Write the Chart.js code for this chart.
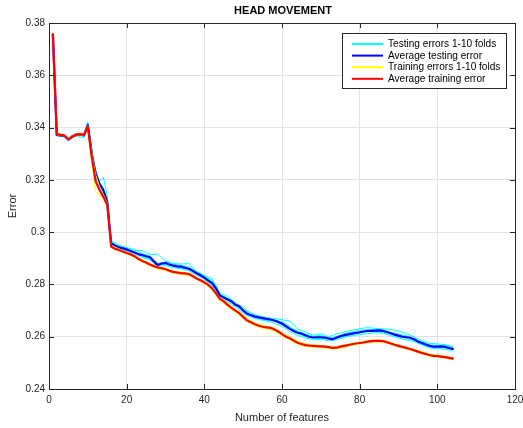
<!DOCTYPE html>
<html>
<head>
<meta charset="utf-8">
<script src="https://cdn.jsdelivr.net/npm/chart.js@4.4.1/dist/chart.umd.min.js"></script>
<style>
  html, body { margin: 0; padding: 0; background: #ffffff; overflow: hidden; }
  canvas { display: block; }
</style>
</head>
<body>
<canvas id="c" width="523" height="428"></canvas>
<script>
// ---- texts and ticks ----
const chartTitle = 'HEAD MOVEMENT';
const xTitle = 'Number of features';
const yTitle = 'Error';
const xTicks = [0, 20, 40, 60, 80, 100, 120];
const yTicks = [0.24, 0.26, 0.28, 0.30, 0.32, 0.34, 0.36, 0.38];
const legendNames = ['Testing errors 1-10 folds', 'Average testing error', 'Training errors 1-10 folds', 'Average training error'];

// ---- averaged curves, one value per feature count ----
const features = [1,2,3,4,5,6,7,8,9,10,11,12,13,14,15,16,17,18,19,20,21,22,23,24,25,26,27,28,29,30,
  31,32,33,34,35,36,37,38,39,40,41,42,43,44,45,46,47,48,49,50,51,52,53,54,55,56,57,58,59,60,
  61,62,63,64,65,66,67,68,69,70,71,72,73,74,75,76,77,78,79,80,81,82,83,84,85,86,87,88,89,90,
  91,92,93,94,95,96,97,98,99,100,101,102,103,104];

const avgTesting = [0.3757,0.3372,0.3370,0.3368,0.3354,0.3366,0.3372,0.3374,0.3370,0.3410,
  0.3300,0.3225,0.3185,0.3160,0.3115,0.2958,0.2948,0.2942,0.2938,0.2934,
  0.2928,0.2922,0.2916,0.2912,0.2908,0.2904,0.2888,0.2874,0.2880,0.2882,
  0.2876,0.2872,0.2869,0.2868,0.2864,0.2860,0.2852,0.2843,0.2835,0.2826,
  0.2815,0.2805,0.2785,0.2758,0.2750,0.2742,0.2735,0.2722,0.2716,0.2700,
  0.2688,0.2682,0.2677,0.2674,0.2671,0.2668,0.2666,0.2662,0.2656,0.2650,
  0.2640,0.2630,0.2622,0.2615,0.2612,0.2606,0.2600,0.2597,0.2598,0.2598,
  0.2597,0.2593,0.2590,0.2596,0.2602,0.2606,0.2609,0.2612,0.2615,0.2617,
  0.2620,0.2622,0.2622,0.2623,0.2624,0.2622,0.2618,0.2613,0.2608,0.2604,
  0.2600,0.2598,0.2596,0.2590,0.2582,0.2576,0.2570,0.2565,0.2562,0.2562,
  0.2563,0.2561,0.2557,0.2553];

const avgTraining = [0.3757,0.3375,0.3372,0.3370,0.3355,0.3365,0.3374,0.3375,0.3372,0.3403,
  0.3290,0.3195,0.3162,0.3135,0.3105,0.2945,0.2936,0.2932,0.2926,0.2920,
  0.2915,0.2908,0.2898,0.2890,0.2884,0.2876,0.2870,0.2865,0.2862,0.2858,
  0.2852,0.2848,0.2845,0.2843,0.2842,0.2840,0.2832,0.2823,0.2816,0.2808,
  0.2798,0.2785,0.2766,0.2745,0.2735,0.2722,0.2710,0.2700,0.2690,0.2676,
  0.2662,0.2655,0.2648,0.2642,0.2638,0.2636,0.2634,0.2628,0.2620,0.2610,
  0.2600,0.2594,0.2585,0.2577,0.2572,0.2568,0.2566,0.2565,0.2564,0.2563,
  0.2562,0.2560,0.2557,0.2558,0.2562,0.2565,0.2568,0.2571,0.2574,0.2576,
  0.2578,0.2581,0.2583,0.2584,0.2584,0.2583,0.2579,0.2574,0.2569,0.2565,
  0.2561,0.2557,0.2553,0.2548,0.2543,0.2538,0.2534,0.2530,0.2527,0.2526,
  0.2524,0.2522,0.2519,0.2516];

// ---- individual folds ----
const foldFeatures = [1,2,3,4,5,6,7,8,9,10,11,12,13,14,15,16,
  18,20,22,24,26,28,30,32,34,36,38,40,42,44,46,48,50,52,54,56,58,60,
  62,64,66,68,70,72,74,76,78,80,82,84,86,88,90,92,94,96,98,100,102,104];

const testingFoldA = [0.3760,0.3378,0.3374,0.3372,0.3360,0.3370,0.3378,0.3372,0.3368,0.3422,
  0.3325,0.3200,0.3195,0.3210,0.3140,0.2968,
  0.2950,0.2942,0.2930,0.2930,0.2915,0.2915,0.2890,0.2880,0.2878,0.2880,0.2850,0.2835,0.2822,0.2768,
  0.2755,0.2730,0.2712,0.2690,0.2680,0.2672,0.2670,0.2665,0.2660,0.2630,0.2618,0.2606,0.2612,0.2600,
  0.2610,0.2618,0.2625,0.2630,0.2635,0.2632,0.2630,0.2628,0.2622,0.2612,0.2600,0.2585,0.2575,0.2572,
  0.2570,0.2562];
const testingFoldB = [0.3752,0.3368,0.3366,0.3364,0.3350,0.3362,0.3368,0.3364,0.3362,0.3400,
  0.3270,0.3185,0.3180,0.3140,0.3100,0.2950,
  0.2936,0.2926,0.2915,0.2902,0.2895,0.2868,0.2872,0.2864,0.2860,0.2852,0.2835,0.2818,0.2796,0.2750,
  0.2733,0.2715,0.2690,0.2675,0.2666,0.2660,0.2652,0.2640,0.2620,0.2605,0.2596,0.2588,0.2590,0.2585,
  0.2588,0.2598,0.2604,0.2608,0.2612,0.2615,0.2614,0.2604,0.2595,0.2588,0.2582,0.2568,0.2557,0.2555,
  0.2552,0.2545];
const testingFoldC = [0.3758,0.3374,0.3372,0.3366,0.3356,0.3368,0.3374,0.3378,0.3374,0.3412,
  0.3305,0.3240,0.3190,0.3168,0.3120,0.2962,
  0.2946,0.2938,0.2934,0.2918,0.2910,0.2880,0.2886,0.2878,0.2872,0.2868,0.2848,0.2830,0.2815,0.2762,
  0.2748,0.2728,0.2705,0.2688,0.2678,0.2674,0.2666,0.2655,0.2635,0.2622,0.2610,0.2602,0.2605,0.2596,
  0.2600,0.2612,0.2618,0.2625,0.2626,0.2628,0.2626,0.2618,0.2610,0.2604,0.2594,0.2580,0.2570,0.2566,
  0.2566,0.2558];
const testingFoldD = [0.3756,0.3370,0.3368,0.3370,0.3352,0.3364,0.3370,0.3376,0.3366,0.3405,
  0.3290,0.3230,0.3178,0.3150,0.3110,0.2955,
  0.2940,0.2930,0.2925,0.2908,0.2898,0.2872,0.2878,0.2870,0.2862,0.2858,0.2840,0.2822,0.2800,0.2755,
  0.2740,0.2720,0.2698,0.2680,0.2670,0.2662,0.2660,0.2658,0.2640,0.2612,0.2600,0.2594,0.2594,0.2590,
  0.2594,0.2600,0.2608,0.2614,0.2620,0.2620,0.2618,0.2610,0.2600,0.2594,0.2586,0.2572,0.2562,0.2560,
  0.2558,0.2550];

const trainingFoldA = [0.3755,0.3372,0.3370,0.3368,0.3352,0.3362,0.3372,0.3372,0.3370,0.3398,
  0.3270,0.3155,0.3145,0.3125,0.3098,0.2940,
  0.2928,0.2916,0.2903,0.2886,0.2871,0.2860,0.2853,0.2843,0.2838,0.2835,0.2818,0.2802,0.2778,0.2738,
  0.2714,0.2693,0.2668,0.2648,0.2636,0.2630,0.2622,0.2604,0.2588,0.2570,0.2562,0.2560,0.2558,0.2555,
  0.2553,0.2560,0.2567,0.2572,0.2577,0.2580,0.2579,0.2570,0.2561,0.2553,0.2544,0.2534,0.2526,0.2522,
  0.2518,0.2512];
const trainingFoldB = [0.3759,0.3378,0.3375,0.3373,0.3358,0.3368,0.3377,0.3378,0.3375,0.3408,
  0.3305,0.3220,0.3175,0.3145,0.3112,0.2950,
  0.2936,0.2924,0.2912,0.2894,0.2880,0.2869,0.2862,0.2852,0.2847,0.2844,0.2827,0.2813,0.2790,0.2750,
  0.2728,0.2706,0.2682,0.2661,0.2647,0.2641,0.2633,0.2615,0.2599,0.2582,0.2573,0.2569,0.2567,0.2564,
  0.2562,0.2569,0.2575,0.2580,0.2585,0.2588,0.2587,0.2578,0.2569,0.2561,0.2552,0.2542,0.2534,0.2530,
  0.2526,0.2520];

// ---- styling ----
const FONT = '"Liberation Sans", Arial, Helvetica, sans-serif';
const INK = '#262626';
const COLORS = { testFold: '#00ffff', testAvg: '#0000ff', trainFold: '#ffff00', trainAvg: '#ff0000' };

const pts = (xs, ys) => xs.map((x, i) => ({ x: x, y: ys[i] }));

function lineSet(label, xs, ys, color, width, order) {
  return {
    label: label, data: pts(xs, ys), borderColor: color, backgroundColor: color,
    borderWidth: width, pointRadius: 0, tension: 0, fill: false, order: order,
    borderJoinStyle: 'round', borderCapStyle: 'round'
  };
}

const datasets = [
  lineSet(legendNames[3], features, avgTraining, COLORS.trainAvg, 2.2, 0),
  lineSet(legendNames[2], foldFeatures, trainingFoldA, COLORS.trainFold, 1, 1),
  lineSet(legendNames[2], foldFeatures, trainingFoldB, COLORS.trainFold, 1, 1),
  lineSet(legendNames[1], features, avgTesting, COLORS.testAvg, 2.2, 2),
  lineSet(legendNames[0], foldFeatures, testingFoldA, COLORS.testFold, 1, 3),
  lineSet(legendNames[0], foldFeatures, testingFoldB, COLORS.testFold, 1, 3),
  lineSet(legendNames[0], foldFeatures, testingFoldC, COLORS.testFold, 1, 3),
  lineSet(legendNames[0], foldFeatures, testingFoldD, COLORS.testFold, 1, 3)
];

const legendEntries = [
  { text: legendNames[0], color: COLORS.testFold },
  { text: legendNames[1], color: COLORS.testAvg },
  { text: legendNames[2], color: COLORS.trainFold },
  { text: legendNames[3], color: COLORS.trainAvg }
];

// Box frame with inward ticks on all four sides, title and legend
const boxPlugin = {
  id: 'boxPlugin',
  afterDraw(chart) {
    const { ctx, chartArea: a, scales } = chart;
    const xs = scales.x, ys = scales.y;
    const TL = 5;
    ctx.save();
    ctx.strokeStyle = INK;
    ctx.lineWidth = 1;
    ctx.strokeRect(Math.round(a.left) + 0.5, Math.round(a.top) + 0.5,
      Math.round(a.right - a.left), Math.round(a.bottom - a.top));
    ctx.beginPath();
    xTicks.forEach(v => {
      const px = Math.round(xs.getPixelForValue(v)) + 0.5;
      ctx.moveTo(px, a.bottom); ctx.lineTo(px, a.bottom - TL);
      ctx.moveTo(px, a.top); ctx.lineTo(px, a.top + TL);
    });
    yTicks.forEach(v => {
      const py = Math.round(ys.getPixelForValue(v)) + 0.5;
      ctx.moveTo(a.left, py); ctx.lineTo(a.left + TL, py);
      ctx.moveTo(a.right, py); ctx.lineTo(a.right - TL, py);
    });
    ctx.stroke();

    // title
    ctx.fillStyle = '#000000';
    ctx.font = 'bold 11px ' + FONT;
    ctx.textAlign = 'center';
    ctx.textBaseline = 'middle';
    ctx.fillText(chartTitle, (a.left + a.right) / 2 + 1, 11);

    // legend
    const lw = 164, lh = 55;
    const lx = Math.round(a.right) - 9 - lw, ly = Math.round(a.top) + 10;
    ctx.fillStyle = '#ffffff';
    ctx.fillRect(lx, ly, lw, lh);
    ctx.strokeStyle = INK;
    ctx.strokeRect(lx + 0.5, ly + 0.5, lw, lh);
    ctx.font = '10.1px ' + FONT;
    ctx.textAlign = 'left';
    ctx.textBaseline = 'middle';
    legendEntries.forEach((e, i) => {
      const cy = ly + 11 + i * 11.6;
      ctx.strokeStyle = e.color;
      ctx.lineWidth = 2;
      ctx.beginPath();
      ctx.moveTo(lx + 10, cy); ctx.lineTo(lx + 41, cy);
      ctx.stroke();
      ctx.fillStyle = '#000000';
      ctx.fillText(e.text, lx + 46, cy + 0.5);
    });
    ctx.restore();
  }
};

new Chart(document.getElementById('c'), {
  type: 'line',
  data: { datasets: datasets },
  options: {
    responsive: false,
    animation: false,
    devicePixelRatio: 1,
    layout: { padding: { left: 0, right: 8, top: 23, bottom: 0 } },
    plugins: { legend: { display: false }, tooltip: { enabled: false }, title: { display: false } },
    scales: {
      x: {
        type: 'linear', min: 0, max: 120,
        afterBuildTicks: s => { s.ticks = xTicks.map(v => ({ value: v })); },
        afterFit: s => { s.height = 39; s.paddingLeft = 0; s.paddingRight = 0; },
        grid: { color: '#e2e2e2', drawTicks: false, lineWidth: 1 },
        border: { display: false },
        ticks: { color: INK, font: { family: FONT, size: 10 }, padding: 5, maxRotation: 0,
          callback: v => String(v) },
        title: { display: true, text: xTitle, color: INK, font: { family: FONT, size: 11 },
          padding: { top: 0, bottom: 3 } }
      },
      y: {
        type: 'linear', min: 0.24, max: 0.38,
        afterBuildTicks: s => { s.ticks = yTicks.map(v => ({ value: v })); },
        afterFit: s => { s.width = 49; s.paddingTop = 0; s.paddingBottom = 0; },
        grid: { color: '#e2e2e2', drawTicks: false, lineWidth: 1 },
        border: { display: false },
        ticks: { color: INK, font: { family: FONT, size: 10 }, padding: 4,
          callback: v => String(+Number(v).toFixed(2)) },
        title: { display: true, text: yTitle, color: INK, font: { family: FONT, size: 11 },
          padding: { top: 6, bottom: 0 } }
      }
    }
  },
  plugins: [boxPlugin]
});
</script>
</body>
</html>
